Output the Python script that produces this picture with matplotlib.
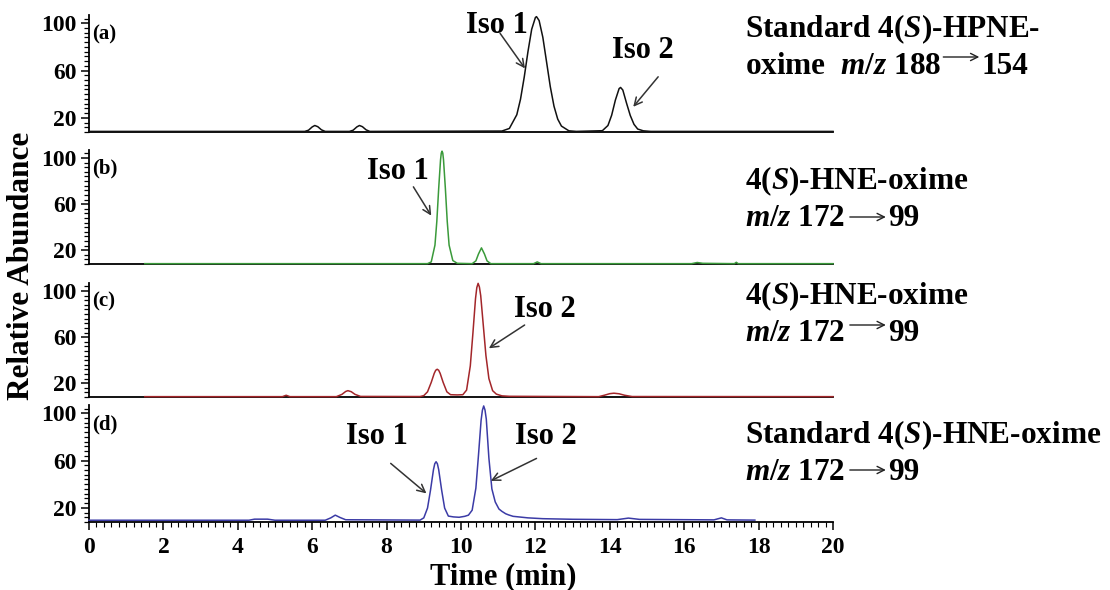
import matplotlib
matplotlib.use("Agg")
import matplotlib.pyplot as plt
from matplotlib.ticker import FixedLocator, MultipleLocator
from matplotlib.patches import FancyArrowPatch

# ---- chromatogram traces (time in min, relative abundance) ----
time_a = [0.0, 5.8, 5.9, 6.0, 6.07, 6.15, 6.25, 6.35, 7.0, 7.1, 7.2, 7.27, 7.35, 7.45, 7.55,
          11.1, 11.3, 11.5, 11.6, 11.7, 11.8, 11.9, 12.0, 12.03, 12.1, 12.2, 12.3, 12.4, 12.5,
          12.6, 12.7, 12.9, 13.1, 13.8, 13.95, 14.05, 14.15, 14.25, 14.29, 14.35, 14.45, 14.55,
          14.65, 14.75, 14.9, 15.1, 20.0]
abund_a = [8.5, 8.5, 9.5, 12.3, 13.5, 12.5, 9.8, 8.5, 8.5, 9.5, 12.3, 13.5, 12.5, 9.8, 8.5,
           8.8, 11.0, 22.6, 35.8, 54.5, 76.0, 94.9, 104.9, 105.6, 102.3, 88.1, 67.3, 46.4, 29.8,
           18.9, 13.0, 9.0, 8.5, 9.1, 13.5, 22.2, 35.0, 44.7, 45.7, 43.5, 32.4, 22.0,
           14.5, 10.5, 9.0, 8.5, 8.5]

time_b = [1.5, 9.1, 9.2, 9.3, 9.35, 9.4, 9.45, 9.47, 9.49, 9.51, 9.53, 9.58, 9.63, 9.68, 9.78,
          9.9, 10.3, 10.4, 10.47, 10.55, 10.63, 10.7, 10.8, 11.95, 12.05, 12.15, 16.2, 16.35,
          16.5, 17.35, 17.4, 17.45, 20.0]
abund_b = [8.3, 8.3, 9.8, 24.4, 45.0, 73.5, 98.5, 104.3, 106.0, 104.3, 98.5, 73.5, 45.0, 24.4,
           11.0, 8.6, 8.3, 10.7, 16.7, 22.0, 16.7, 10.7, 8.3, 8.3, 9.8, 8.3, 8.3, 9.3,
           8.6, 8.3, 9.5, 8.3, 8.3]

time_c = [1.5, 5.2, 5.3, 5.4, 6.65, 6.8, 6.9, 6.96, 7.05, 7.15, 7.3, 8.9, 9.0, 9.1, 9.2, 9.28,
          9.32, 9.36, 9.4, 9.44, 9.52, 9.62, 9.72, 9.9, 10.05, 10.15, 10.25, 10.32, 10.39,
          10.425, 10.46, 10.495, 10.53, 10.6, 10.67, 10.75, 10.85, 10.95, 11.1, 11.3, 13.7,
          13.85, 14.0, 14.11, 14.25, 14.4, 14.6, 20.0]
abund_c = [8.3, 8.3, 9.5, 8.3, 8.3, 10.3, 12.8, 13.5, 12.6, 10.3, 8.5, 8.4, 9.2, 12.5, 20.7, 28.5,
           31.2, 32.1, 31.2, 28.5, 20.7, 12.5, 10.0, 9.8, 10.0, 14.0, 35.0, 63.3, 93.4,
           103.0, 106.7, 103.5, 96.0, 70.0, 44.0, 24.0, 13.5, 10.5, 9.0, 8.6, 8.3,
           9.5, 10.9, 11.3, 10.8, 9.5, 8.4, 8.3]

time_d = [0.0, 4.3, 4.45, 4.8, 5.0, 6.35, 6.5, 6.62, 6.75, 6.9, 8.9, 9.0, 9.1, 9.18, 9.26,
          9.295, 9.33, 9.365, 9.4, 9.48, 9.56, 9.66, 9.8, 9.95, 10.1, 10.2, 10.3, 10.4, 10.47,
          10.54, 10.575, 10.61, 10.645, 10.68, 10.75, 10.83, 10.92, 11.02, 11.1, 11.2, 11.28,
          11.4, 11.8, 12.2, 13.0, 14.2, 14.5, 14.8, 16.8, 17.0, 17.15, 17.9]
abund_d = [9.5, 9.5, 10.4, 10.4, 9.5, 9.5, 11.5, 13.8, 11.8, 9.9, 9.6, 11.5, 19.8, 34.9, 52.3,
           57.3, 59.0, 57.3, 52.3, 34.9, 19.8, 13.0, 12.3, 12.0, 12.8, 13.8, 18.0, 36.7, 64.6,
           94.0, 102.5, 106.2, 102.8, 95.0, 62.0, 36.0, 25.0, 19.0, 17.0, 15.0, 14.0,
           12.8, 11.5, 10.8, 10.3, 10.0, 11.3, 10.2, 9.8, 11.5, 9.8, 9.6]

y_ticks = [20, 60, 100]
x_ticks = [0, 2, 4, 6, 8, 10, 12, 14, 16, 18, 20]
panel_letters = ["(a)", "(b)", "(c)", "(d)"]
trace_colors = ["#111111", "#3a9a3a", "#a3262a", "#3b3ba6"]

# right-hand titles: first line, second line before the arrow, text after the arrow
title_line1 = ["Standard 4($S$)-HPNE-", "4($S$)-HNE-oxime", "4($S$)-HNE-oxime",
               "Standard 4($S$)-HNE-oxime"]
title_line2 = ["oxime  $m$/$z$ 188", "$m$/$z$ 172", "$m$/$z$ 172", "$m$/$z$ 172"]
title_after = ["154", "99", "99", "99"]

# isomer callouts: (label, label position, arrow tail, arrow tip) in data units
callouts = [
    [("Iso 1", (10.96, 98.5), (11.05, 91.5), (11.72, 61.8)),
     ("Iso 2", (14.88, 77.3), (15.30, 54.7), (14.63, 29.3))],
    [("Iso 1", (8.30, 88.0), (8.72, 75.0), (9.20, 50.0))],
    [("Iso 2", (12.26, 83.6), (11.71, 70.5), (10.75, 50.3))],
    [("Iso 1", (7.73, 80.1), (8.11, 57.6), (9.07, 32.2)),
     ("Iso 2", (12.28, 80.1), (12.03, 61.8), (10.80, 42.8))],
]

plt.rcParams.update({
    "font.family": ["Liberation Serif", "DejaVu Serif"],
    "font.weight": "bold",
    "mathtext.fontset": "custom",
    "mathtext.rm": "Liberation Serif:bold",
    "mathtext.it": "Liberation Serif:italic:bold",
    "mathtext.bf": "Liberation Serif:bold",
    "mathtext.fallback": "stix",
})

W, H = 1110, 590
fig = plt.figure(figsize=(W / 100, H / 100), dpi=100)


def rect(x0, y0, x1, y1):
    return [x0 / W, 1 - y1 / H, (x1 - x0) / W, (y1 - y0) / H]


panel_boxes = [rect(89, 15, 833, 132), rect(89, 150, 833, 264),
               rect(89, 283, 833, 397), rect(89, 405, 833, 522)]
traces = [(time_a, abund_a), (time_b, abund_b), (time_c, abund_c), (time_d, abund_d)]

axes = []
for i, box in enumerate(panel_boxes):
    ax = fig.add_axes(box)
    axes.append(ax)
    t, a = traces[i]
    ax.plot(t, a, color=trace_colors[i], lw=1.1, zorder=3, clip_on=False)
    ax.set_xlim(0, 20)
    ax.set_ylim(8, 107)
    for side in ("top", "right"):
        ax.spines[side].set_visible(False)
    for side in ("left", "bottom"):
        ax.spines[side].set_linewidth(1.3)
    ax.yaxis.set_major_locator(FixedLocator(y_ticks))
    ax.yaxis.set_minor_locator(MultipleLocator(4))
    ax.tick_params(axis="y", which="major", length=6, width=1.1, labelsize=17, pad=3)
    ax.tick_params(axis="y", which="minor", length=3.5, width=0.9)
    if i < 3:
        ax.tick_params(axis="x", which="both", bottom=False, labelbottom=False)
    else:
        ax.xaxis.set_major_locator(FixedLocator(x_ticks))
        ax.xaxis.set_minor_locator(MultipleLocator(0.2))
        ax.tick_params(axis="x", which="major", length=6, width=1.1, labelsize=17, pad=5)
        ax.tick_params(axis="x", which="minor", length=3.5, width=0.8)
    ax.text(0.004, 0.835, panel_letters[i], transform=ax.transAxes, ha="left",
            va="center", fontsize=15)
    for label, pos, tail, tip in callouts[i]:
        ax.text(pos[0], pos[1], label, ha="center", va="center", fontsize=22)
        ax.annotate("", xy=tip, xytext=tail,
                    arrowprops=dict(arrowstyle="->", color="#333333", lw=1.1,
                                    shrinkA=0, shrinkB=0, mutation_scale=14),
                    annotation_clip=False)

fig.text(22 / W, 1 - 266 / H, "Relative Abundance", rotation=90, ha="center",
         va="center", fontsize=22.5)
fig.text(503 / W, 1 - 577 / H, "Time (min)", ha="center", va="center", fontsize=22)

# right-hand titles with a thin transition arrow
renderer = fig.canvas.get_renderer()
base1 = [37, 189, 304, 443]
base2 = [74, 226, 341, 480]
arrow_rise = [17, 9, 16, 10]
x_left = 745
for i in range(4):
    fig.text(x_left / W, 1 - base1[i] / H, title_line1[i], ha="left", va="baseline",
             fontsize=22.5)
    t2 = fig.text(x_left / W, 1 - base2[i] / H, title_line2[i], ha="left",
                  va="baseline", fontsize=22.5)
    bb = t2.get_window_extent(renderer)
    xa = bb.x1 + (2 if i == 0 else 5)
    xb = xa + 36
    ya = H - base2[i] + arrow_rise[i]
    arr = FancyArrowPatch((xa / W, ya / H), (xb / W, ya / H), arrowstyle="->",
                          mutation_scale=13, lw=1.0, color="#222222",
                          shrinkA=0, shrinkB=0, transform=fig.transFigure)
    fig.add_artist(arr)
    fig.text((xb + 2) / W, 1 - base2[i] / H, title_after[i], ha="left", va="baseline",
             fontsize=22.5)

fig.savefig("out.png", dpi=100)
